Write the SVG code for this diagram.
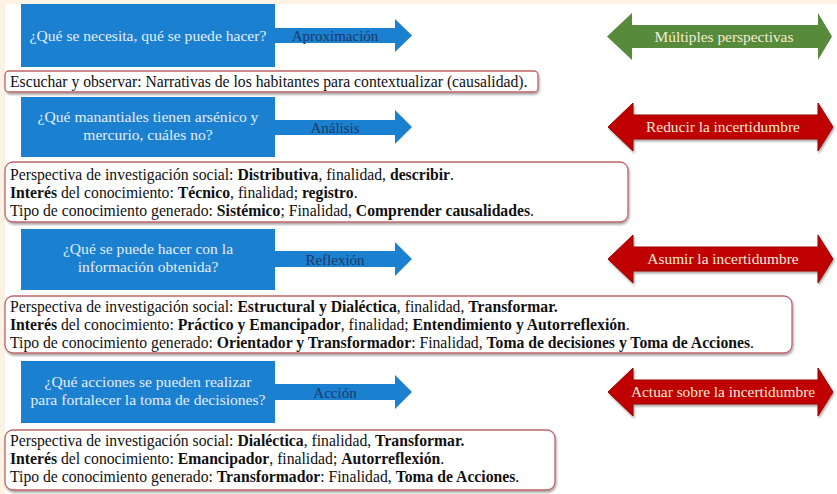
<svg xmlns="http://www.w3.org/2000/svg" width="837" height="494" viewBox="0 0 837 494">
<style>
.q{fill:#1c80d0}
.qt{font-family:"Liberation Serif","Times New Roman",serif;font-size:15.6px;fill:#e4eef8;text-anchor:middle}
.at{font-family:"Liberation Serif","Times New Roman",serif;font-size:15px;fill:#1b3a66;text-anchor:middle}
.green{fill:#578a3a}
.red{fill:#c00000;stroke:#9a0000;stroke-width:1}
.dt{font-family:"Liberation Serif","Times New Roman",serif;font-size:15.4px;fill:#f3ecd8;text-anchor:middle}
.box{fill:#ffffff;stroke:#c0646a;stroke-width:1.3}
.bt{font-family:"Liberation Serif","Times New Roman",serif;font-size:15.7px;fill:#111111}
.b{font-weight:bold}
</style>
<defs>
<filter id="sh" x="-5%" y="-10%" width="110%" height="130%">
<feGaussianBlur in="SourceAlpha" stdDeviation="1.2"/>
<feOffset dx="1" dy="1.5" result="o"/>
<feComponentTransfer><feFuncA type="linear" slope="0.35"/></feComponentTransfer>
<feMerge><feMergeNode/><feMergeNode in="SourceGraphic"/></feMerge>
</filter>
</defs>
<rect x="0" y="0" width="837" height="494" fill="#fcf3e4"/>
<rect x="5" y="4" width="832" height="490" fill="#ffffff"/>

<!-- Section 1 -->
<g id="q1">
<rect class="q" x="21" y="4" width="254" height="63"/>
<text class="qt" x="148" y="41">¿Qué se necesita, qué se puede hacer?</text>
</g>
<g id="step1">
<path class="q" d="M274,28 H395 V19 L412,35.5 L395,52 V43 H274 Z"/>
<text class="at" x="335" y="41">Aproximación</text>
</g>
<g id="u1">
<path class="green" d="M607,36.5 L632,13 V25 H818 V13 L832,36.5 L818,60 V48 H632 V60 Z"/>
<text class="dt" x="724" y="41.5">Múltiples perspectivas</text>
</g>
<g id="d1">
<rect class="box" x="5" y="71" width="533" height="21" rx="4" filter="url(#sh)"/>
<text class="bt" x="10" y="86.5">Escuchar y observar: Narrativas de los habitantes para contextualizar (causalidad).</text>
</g>

<!-- Section 2 -->
<g id="q2">
<rect class="q" x="21" y="97" width="254" height="60"/>
<text class="qt" x="148" y="122">¿Qué manantiales tienen arsénico y</text>
<text class="qt" x="148" y="140">mercurio, cuáles no?</text>
</g>
<g id="step2">
<path class="q" d="M274,120 H395 V110 L412,127 L395,144 V135 H274 Z"/>
<text class="at" x="335" y="132.5">Análisis</text>
</g>
<g id="u2">
<path class="red" d="M608,127 L633,103 V115 H818 V103 L833,127 L818,151 V139 H633 V151 Z" filter="url(#sh)"/>
<text class="dt" x="723" y="132">Reducir la incertidumbre</text>
</g>
<g id="d2">
<rect class="box" x="5" y="162" width="623" height="60" rx="8" filter="url(#sh)"/>
<text class="bt" x="10" y="180">Perspectiva de investigación social: <tspan class="b">Distributiva</tspan>, finalidad, <tspan class="b">describir</tspan>.</text>
<text class="bt" x="10" y="198"><tspan class="b">Interés</tspan> del conocimiento: <tspan class="b">Técnico</tspan>, finalidad; <tspan class="b">registro</tspan>.</text>
<text class="bt" x="10" y="216">Tipo de conocimiento generado: <tspan class="b">Sistémico</tspan>; Finalidad, <tspan class="b">Comprender causalidades</tspan>.</text>
</g>

<!-- Section 3 -->
<g id="q3">
<rect class="q" x="21" y="229" width="254" height="61"/>
<text class="qt" x="148" y="254">¿Qué se puede hacer con la</text>
<text class="qt" x="148" y="272">información obtenida?</text>
</g>
<g id="step3">
<path class="q" d="M274,251 H395 V242 L412,259 L395,276 V267 H274 Z"/>
<text class="at" x="335" y="264.5">Reflexión</text>
</g>
<g id="u3">
<path class="red" d="M608,259 L633,235 V247 H818 V235 L833,259 L818,283 V271 H633 V283 Z" filter="url(#sh)"/>
<text class="dt" x="723" y="264">Asumir la incertidumbre</text>
</g>
<g id="d3">
<rect class="box" x="5" y="296" width="787" height="57" rx="8" filter="url(#sh)"/>
<text class="bt" x="10" y="312">Perspectiva de investigación social: <tspan class="b">Estructural y Dialéctica</tspan>, finalidad, <tspan class="b">Transformar.</tspan></text>
<text class="bt" x="10" y="330"><tspan class="b">Interés</tspan> del conocimiento: <tspan class="b">Práctico y Emancipador</tspan>, finalidad; <tspan class="b">Entendimiento y Autorreflexión</tspan>.</text>
<text class="bt" x="10" y="348">Tipo de conocimiento generado: <tspan class="b">Orientador y Transformador</tspan>: Finalidad, <tspan class="b">Toma de decisiones y Toma de Acciones</tspan>.</text>
</g>

<!-- Section 4 -->
<g id="q4">
<rect class="q" x="21" y="361" width="254" height="62"/>
<text class="qt" x="148" y="387">¿Qué acciones se pueden realizar</text>
<text class="qt" x="148" y="405">para fortalecer la toma de decisiones?</text>
</g>
<g id="step4">
<path class="q" d="M274,384 H395 V375 L412,392 L395,409 V400 H274 Z"/>
<text class="at" x="335" y="397.5">Acción</text>
</g>
<g id="u4">
<path class="red" d="M608,392 L633,368 V380 H818 V368 L833,392 L818,416 V404 H633 V416 Z" filter="url(#sh)"/>
<text class="dt" x="723" y="397">Actuar sobre la incertidumbre</text>
</g>
<g id="d4">
<rect class="box" x="5" y="430" width="550" height="60" rx="8" filter="url(#sh)"/>
<text class="bt" x="10" y="446">Perspectiva de investigación social: <tspan class="b">Dialéctica</tspan>, finalidad, <tspan class="b">Transformar.</tspan></text>
<text class="bt" x="10" y="464"><tspan class="b">Interés</tspan> del conocimiento: <tspan class="b">Emancipador</tspan>, finalidad; <tspan class="b">Autorreflexión</tspan>.</text>
<text class="bt" x="10" y="482">Tipo de conocimiento generado: <tspan class="b">Transformador</tspan>: Finalidad, <tspan class="b">Toma de Acciones</tspan>.</text>
</g>

<g id="connectors"></g>
</svg>
